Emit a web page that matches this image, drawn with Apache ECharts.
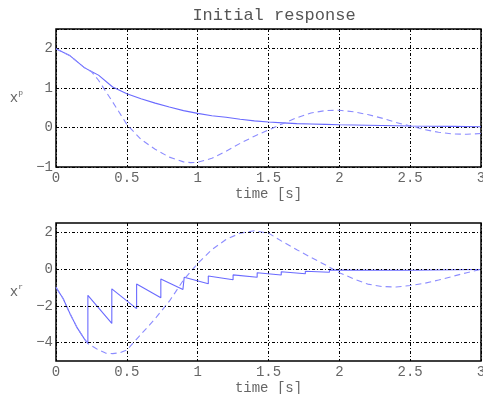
<!DOCTYPE html>
<html><head><meta charset="utf-8">
<script src="https://cdn.jsdelivr.net/npm/echarts@6/dist/echarts.min.js"></script>
<style>html,body{margin:0;padding:0;background:#fff;overflow:hidden}#c{width:483px;height:394px}</style>
</head><body><div id="c"></div>
<script>
// ---- data ----
const title = 'Initial response';
const xTicks = [0, 0.5, 1, 1.5, 2, 2.5, 3];
const xName = 'time [s]';

// top plot: x_p
const tPs = [0,0.1,0.2,0.25,0.3,0.4,0.5,0.6,0.7,0.8,0.9,1.0,1.1,1.2,1.3,1.4,1.5,1.6,1.7,1.8,1.9,2.0,2.2,2.5,2.8,3.0];
const xpSolid = [2.0,1.82,1.52,1.42,1.33,1.03,0.86,0.73,0.62,0.52,0.43,0.36,0.3,0.26,0.21,0.17,0.14,0.12,0.1,0.09,0.08,0.07,0.06,0.04,0.03,0.02];
const tPd = [0,0.1,0.2,0.25,0.3,0.4,0.5,0.6,0.7,0.8,0.9,0.95,1.0,1.1,1.2,1.3,1.4,1.5,1.6,1.7,1.8,1.9,2.0,2.1,2.2,2.3,2.4,2.5,2.6,2.7,2.8,2.9,3.0];
const xpDashed = [2.0,1.82,1.52,1.42,1.2,0.65,0.08,-0.3,-0.55,-0.75,-0.87,-0.89,-0.88,-0.78,-0.6,-0.4,-0.22,-0.06,0.1,0.25,0.37,0.43,0.44,0.4,0.33,0.24,0.13,0.04,-0.05,-0.12,-0.16,-0.17,-0.15];
const yTicksP = [-1, 0, 1, 2];

// bottom plot: x_r
const tRs = [0,0.05,0.1,0.15,0.2,0.225,0.225,0.394,0.394,0.569,0.569,0.74,0.74,0.896,0.905,1.075,1.075,1.25,1.25,1.42,1.42,1.59,1.59,1.76,1.76,1.93,1.93,2.5,3.0];
const xrSolid = [-1.0,-1.6,-2.45,-3.2,-3.8,-4.05,-1.43,-2.96,-1.08,-2.15,-0.81,-1.56,-0.54,-1.11,-0.45,-0.8,-0.38,-0.58,-0.32,-0.45,-0.2,-0.33,-0.15,-0.26,-0.12,-0.18,-0.06,-0.07,-0.03];
const tRd = [0,0.05,0.1,0.15,0.2,0.225,0.3,0.35,0.4,0.45,0.5,0.6,0.7,0.8,0.9,1.0,1.1,1.2,1.3,1.4,1.5,1.6,1.7,1.8,1.9,2.0,2.1,2.2,2.3,2.4,2.5,2.6,2.7,2.8,2.9,3.0];
const xrDashed = [-1.0,-1.6,-2.45,-3.2,-3.8,-4.05,-4.4,-4.57,-4.6,-4.55,-4.4,-3.55,-2.7,-1.75,-0.6,0.3,1.05,1.6,1.95,2.08,1.95,1.48,1.05,0.63,0.23,-0.2,-0.53,-0.82,-0.95,-0.98,-0.9,-0.78,-0.6,-0.4,-0.2,-0.02];
const yTicksR = [-4, -2, 0, 2];

// ---- chart ----
const pair = (ts, vs) => ts.map((t, i) => [t, vs[i]]);
const mono = 'Liberation Mono, DejaVu Sans Mono, monospace';
const txtColor = '#666';
const gridDash = [3, 2, 1, 2];
const solidColor = '#6a6aff';
const dashColor = '#8c8cff';
const fmtNum = v => String(v).replace('-', '\u2212');

function xAxisCfg(gi) {
  return {
    type: 'value', gridIndex: gi, min: xTicks[0], max: xTicks[xTicks.length - 1], interval: xTicks[1] - xTicks[0],
    axisLine: {show: false}, axisTick: {show: false},
    axisLabel: {color: txtColor, fontFamily: mono, fontSize: 14, margin: 4, formatter: fmtNum},
    splitLine: {show: true, lineStyle: {color: '#000', type: gridDash, width: 1}},
    name: xName, nameLocation: 'middle', nameGap: 20,
    nameTextStyle: {color: txtColor, fontFamily: mono, fontSize: 14}
  };
}

function gridCfg(top) {
  return {left: 56, width: 425, top: top, height: 138, show: true, borderColor: '#000', borderWidth: 1.5,
    backgroundColor: 'transparent', containLabel: false, outerBoundsMode: 'none'};
}

const option = {
  animation: false,
  backgroundColor: '#fff',
  title: {text: title, left: 269, top: 2, textAlign: 'center',
    textStyle: {fontFamily: mono, fontSize: 17, fontWeight: 'normal', color: '#555'}},
  grid: [gridCfg(29), gridCfg(223)],
  xAxis: [xAxisCfg(0), xAxisCfg(1)],
  yAxis: [
    {type: 'value', gridIndex: 0, min: yTicksP[0], max: 2.5, interval: 1,
      axisLine: {show: false}, axisTick: {show: false},
      axisLabel: {color: txtColor, fontFamily: mono, fontSize: 14, margin: 3, showMaxLabel: false,
        formatter: v => (yTicksP.indexOf(v) >= 0 ? fmtNum(v) : '')},
      splitLine: {show: true, lineStyle: {color: '#000', type: gridDash, width: 1}},
      name: '{a|x}{b|p}', nameLocation: 'middle', nameGap: 33, nameRotate: 0,
      nameTextStyle: {rich: {a: {fontFamily: mono, fontSize: 14, color: txtColor}, b: {fontFamily: mono, fontSize: 8, color: txtColor, padding: [0, 0, 10, 0]}}}
    },
    {type: 'value', gridIndex: 1, min: -5, max: 2.5, interval: 1,
      axisLine: {show: false}, axisTick: {show: false},
      axisLabel: {color: txtColor, fontFamily: mono, fontSize: 14, margin: 3, showMaxLabel: false,
        formatter: v => (yTicksR.indexOf(v) >= 0 ? fmtNum(v) : '')},
      splitLine: {show: false},
      name: '{a|x}{b|r}', nameLocation: 'middle', nameGap: 33, nameRotate: 0,
      nameTextStyle: {rich: {a: {fontFamily: mono, fontSize: 14, color: txtColor}, b: {fontFamily: mono, fontSize: 8, color: txtColor, padding: [0, 0, 10, 0]}}}
    }
  ],
  series: [
    {type: 'line', xAxisIndex: 0, yAxisIndex: 0, data: pair(tPs, xpSolid), showSymbol: false, symbol: 'none',
      lineStyle: {color: solidColor, width: 1.1}},
    {type: 'line', xAxisIndex: 0, yAxisIndex: 0, data: pair(tPd, xpDashed), showSymbol: false, symbol: 'none',
      lineStyle: {color: dashColor, width: 1.1, type: [6, 4]}},
    {type: 'line', xAxisIndex: 1, yAxisIndex: 1, data: pair(tRs, xrSolid), showSymbol: false, symbol: 'none',
      lineStyle: {color: solidColor, width: 1.1},
      markLine: {silent: true, symbol: 'none', label: {show: false}, animation: false,
        lineStyle: {color: '#000', type: gridDash, width: 1},
        data: yTicksR.map(v => ({yAxis: v}))}},
    {type: 'line', xAxisIndex: 1, yAxisIndex: 1, data: pair(tRd, xrDashed), showSymbol: false, symbol: 'none',
      lineStyle: {color: dashColor, width: 1.1, type: [6, 4]}}
  ]
};
echarts.init(document.getElementById('c'), null, {renderer: 'canvas'}).setOption(option);
</script></body></html>
